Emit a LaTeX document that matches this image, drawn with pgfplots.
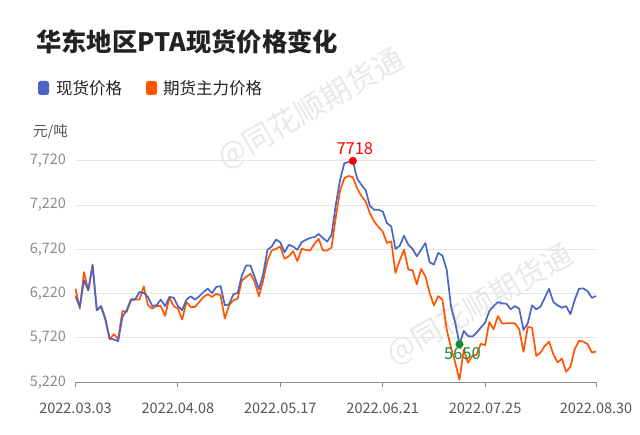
\documentclass[border=0pt]{standalone}
\usepackage{fontspec}
\setmainfont{Noto Sans CJK SC}
\usepackage{pgfplots}
\pgfplotsset{compat=1.18}
\definecolor{blueC}{RGB}{74,101,199}
\definecolor{orangeC}{RGB}{255,85,0}
\definecolor{greenC}{RGB}{22,138,58}
\definecolor{redC}{RGB}{255,0,0}
\definecolor{gridC}{RGB}{228,228,228}
\definecolor{axisC}{RGB}{140,140,140}
\definecolor{ylabC}{RGB}{140,140,140}
\definecolor{xlabC}{RGB}{85,85,85}
\definecolor{titleC}{RGB}{34,34,34}
\definecolor{wmC}{RGB}{232,232,232}
\begin{document}
\begin{tikzpicture}[x=1bp,y=1bp]
\useasboundingbox (0,0) rectangle (640,435);
% watermarks
\node[rotate=30, text=wmC, font=\fontsize{30bp}{30bp}\selectfont] at (311,326) {@同花顺期货通};
\node[rotate=30, text=wmC, font=\fontsize{30bp}{30bp}\selectfont] at (480,130) {@同花顺期货通};
\begin{axis}[
  at={(75.5bp,52.7bp)}, anchor=south west,
  width=520.5bp, height=221.6bp, scale only axis,
  xmin=0, xmax=122, ymin=5220, ymax=7720,
  clip=false,
  axis x line*=bottom, axis y line*=left,
  y axis line style={draw=none},
  x axis line style={draw=axisC, line width=1bp},
  ymajorgrids, grid style={draw=gridC, line width=1bp},
  xtick={0,24,48,72,96,122},
  xticklabels={2022.03.03,2022.04.08,2022.05.17,2022.06.21,2022.07.25,2022.08.30},
  ytick={5220,5720,6220,6720,7220,7720},
  xtick style={draw=axisC, line width=1bp},
  ytick style={draw=none},
  tick align=outside,
  major tick length=5bp,
  /pgf/number format/.cd, 1000 sep={,}, assume math mode=true,
  /pgfplots/.cd,
  yticklabel style={font=\fontsize{14.5bp}{16bp}\selectfont, text=ylabC, xshift=-1bp},
  xticklabel style={font=\fontsize{14.5bp}{16bp}\selectfont, text=xlabC, yshift=-12bp},
]
\addplot[color=orangeC, line width=1.7bp, line join=round] table[row sep=\\] {
x y\\
0 6276\\ 1 6051\\ 2 6463\\ 3 6257\\ 4 6550\\ 5 6033\\ 6 6070\\ 7 5920\\ 8 5707\\ 9 5763\\
10 5707\\ 11 6025\\ 12 6014\\ 13 6145\\ 14 6153\\ 15 6153\\ 16 6302\\ 17 6089\\ 18 6051\\ 19 6081\\
20 6081\\ 21 5969\\ 22 6175\\ 23 6081\\ 24 6051\\ 25 5928\\ 26 6126\\ 27 6070\\ 28 6070\\ 29 6126\\
30 6183\\ 31 6213\\ 32 6183\\ 33 6220\\ 34 6201\\ 35 5939\\ 36 6089\\ 37 6145\\ 38 6164\\ 39 6370\\
40 6407\\ 41 6445\\ 42 6351\\ 43 6190\\ 44 6370\\ 45 6595\\ 46 6707\\ 47 6726\\ 48 6752\\ 49 6613\\
50 6643\\ 51 6699\\ 52 6587\\ 53 6726\\ 54 6714\\ 55 6707\\ 56 6782\\ 57 6838\\ 58 6707\\ 59 6707\\
60 6740\\ 61 7080\\ 62 7380\\ 63 7521\\ 64 7548\\ 65 7533\\ 66 7409\\ 67 7323\\ 68 7259\\ 69 7128\\
70 7035\\ 71 6971\\ 72 6922\\ 73 6791\\ 74 6810\\ 75 6454\\ 76 6596\\ 77 6716\\ 78 6492\\ 79 6484\\
80 6323\\ 81 6499\\ 82 6417\\ 83 6229\\ 84 6087\\ 85 6192\\ 86 6154\\ 87 5817\\ 88 5611\\ 89 5443\\
90 5248\\ 91 5590\\ 92 5440\\ 93 5518\\ 94 5530\\ 95 5655\\ 96 5640\\ 97 5900\\ 98 5818\\ 99 5968\\
100 5882\\ 101 5885\\ 102 5885\\ 103 5885\\ 104 5818\\ 105 5563\\ 106 5844\\ 107 5837\\ 108 5518\\ 109 5556\\
110 5631\\ 111 5676\\ 112 5537\\ 113 5443\\ 114 5488\\ 115 5339\\ 116 5395\\ 117 5593\\ 118 5687\\ 119 5679\\
120 5650\\ 121 5556\\ 122 5567\\
};
\addplot[color=blueC, line width=1.7bp, line join=round] table[row sep=\\] {
x y\\
0 6190\\ 1 6070\\ 2 6370\\ 3 6257\\ 4 6538\\ 5 6033\\ 6 6081\\ 7 5939\\ 8 5714\\ 9 5703\\
10 5684\\ 11 5958\\ 12 6033\\ 13 6156\\ 14 6156\\ 15 6239\\ 16 6227\\ 17 6183\\ 18 6081\\ 19 6089\\
20 6153\\ 21 6078\\ 22 6183\\ 23 6175\\ 24 6081\\ 25 6033\\ 26 6153\\ 27 6190\\ 28 6153\\ 29 6190\\
30 6239\\ 31 6276\\ 32 6227\\ 33 6295\\ 34 6306\\ 35 6089\\ 36 6100\\ 37 6213\\ 38 6227\\ 39 6426\\
40 6538\\ 41 6538\\ 42 6407\\ 43 6269\\ 44 6445\\ 45 6714\\ 46 6752\\ 47 6830\\ 48 6800\\ 49 6688\\
50 6771\\ 51 6752\\ 52 6714\\ 53 6800\\ 54 6827\\ 55 6849\\ 56 6857\\ 57 6894\\ 58 6845\\ 59 6808\\
60 6880\\ 61 7220\\ 62 7500\\ 63 7690\\ 64 7705\\ 65 7718\\ 66 7521\\ 67 7447\\ 68 7390\\ 69 7211\\
70 7166\\ 71 7166\\ 72 7147\\ 73 7016\\ 74 6979\\ 75 6724\\ 76 6761\\ 77 6874\\ 78 6773\\ 79 6724\\
80 6641\\ 81 6716\\ 82 6791\\ 83 6574\\ 84 6548\\ 85 6679\\ 86 6649\\ 87 6492\\ 88 6080\\ 89 5893\\
90 5650\\ 91 5799\\ 92 5743\\ 93 5735\\ 94 5780\\ 95 5837\\ 96 5893\\ 97 6024\\ 98 6080\\ 99 6125\\
100 6110\\ 101 6106\\ 102 6043\\ 103 6080\\ 104 6050\\ 105 5810\\ 106 5885\\ 107 6088\\ 108 6043\\ 109 6073\\
110 6174\\ 111 6275\\ 112 6125\\ 113 6088\\ 114 6061\\ 115 6080\\ 116 5987\\ 117 6148\\ 118 6275\\ 119 6279\\
120 6249\\ 121 6174\\ 122 6193\\
};
\addplot[only marks, mark=*, mark size=3.8bp, color=redC,
  point meta=explicit symbolic, nodes near coords,
  nodes near coords style={font=\fontsize{16.5bp}{18bp}\selectfont, text=redC, anchor=south, yshift=3bp, xshift=2bp}]
  coordinates {(65,7718) [7718]};
\addplot[only marks, mark=*, mark size=3.8bp, color=greenC,
  point meta=explicit symbolic, nodes near coords,
  nodes near coords style={font=\fontsize{16.5bp}{18bp}\selectfont, text=greenC, anchor=north, yshift=0bp, xshift=3bp}]
  coordinates {(90,5650) [5650]};
\end{axis}
% title
\node[anchor=west, inner sep=0pt, text=titleC, font=\bfseries\fontsize{25.3bp}{28bp}\selectfont] at (36,393) {华东地区PTA现货价格变化};
% legend
\fill[blueC, rounded corners=2.5bp] (38,340) rectangle (49,354);
\node[anchor=west, inner sep=0pt, text=titleC, font=\fontsize{16.5bp}{18bp}\selectfont] at (56,347) {现货价格};
\fill[orangeC, rounded corners=2.5bp] (146,340) rectangle (157,354);
\node[anchor=west, inner sep=0pt, text=titleC, font=\fontsize{16.5bp}{18bp}\selectfont] at (163,347) {期货主力价格};
% unit
\node[anchor=west, inner sep=0pt, text=xlabC, font=\fontsize{14.5bp}{16bp}\selectfont] at (33,303) {元/吨};
\end{tikzpicture}
\end{document}
